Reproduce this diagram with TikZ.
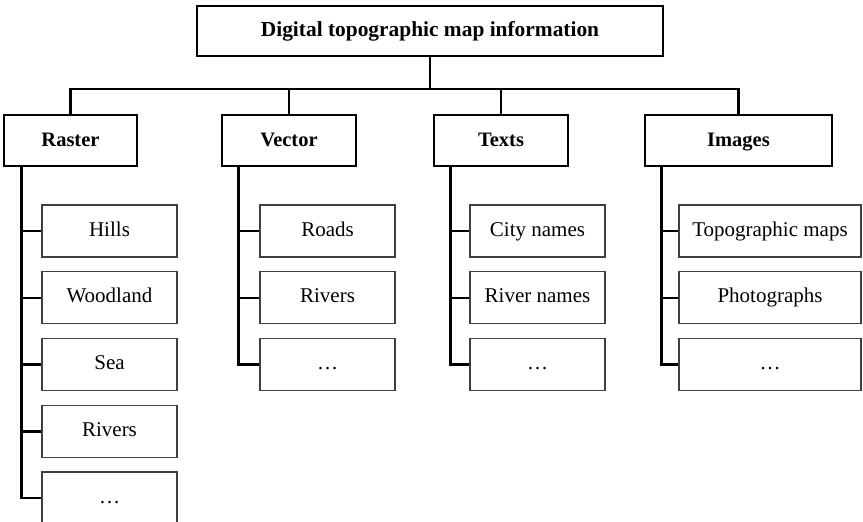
\documentclass[tikz,border=0pt]{standalone}
\usepackage{fontspec}
\setmainfont{Liberation Serif}
\usepackage{tikz}

\begin{document}
\begin{tikzpicture}[x=1pt, y=-1pt,
   mainbox/.style={draw=black, line width=2.6pt, inner sep=0pt, minimum height=51pt,
      text height=14.5pt, text depth=3.5pt, font=\fontsize{20.5}{24}\selectfont\bfseries},
   subbox/.style={draw=black!75, line width=1.3pt, inner sep=0pt, minimum width=135pt,
      minimum height=52pt, text height=14pt, text depth=4pt, font=\fontsize{21}{25}\selectfont},
   link/.style={draw=black, line width=2.5pt}]

   \useasboundingbox (0,0) rectangle (863,522);
   \clip (0,0) rectangle (863,522);

   \node[mainbox, minimum width=466pt, minimum height=50pt, font=\fontsize{21.4}{25}\selectfont\bfseries] (info) at (430,31) {Digital topographic map information};

   \node[mainbox, minimum width=133pt] (raster) at (70.5,140.5) {Raster};
   \node[mainbox, minimum width=134pt] (vector) at (289,140.5) {Vector};
   \node[mainbox, minimum width=134pt] (texts) at (501,140.5) {Texts};
   \node[mainbox, minimum width=187pt] (images) at (738.5,140.5) {Images};

   \coordinate (bus) at (430,89);
   \draw[link] (info.south) -- (bus);
   \foreach \c in {raster,vector,texts,images}
    {
      \draw[link] (bus) -| (\c.north);
    }

   \foreach \t [count=\i] in {Hills,Woodland,Sea,Rivers,\ldots}
      \node[subbox] (raster\i) at (109.5,164.25+66.75*\i) {\t};
   \foreach \t [count=\i] in {Roads,Rivers,\ldots}
      \node[subbox] (vector\i) at (327.5,164.25+66.75*\i) {\t};
   \foreach \t [count=\i] in {City names,River names,\ldots}
      \node[subbox] (texts\i) at (537.5,164.25+66.75*\i) {\t};
   \foreach \t [count=\i] in {Topographic maps,Photographs,\ldots}
      \node[subbox, minimum width=182pt] (images\i) at (770,164.25+66.75*\i) {\t};

   \foreach \i in {1,...,5}
      \draw[link] ([xshift=19pt]raster.south west) |- (raster\i.west);
   \foreach \c in {vector,texts,images}
    \foreach \i in {1,...,3}
    {
      \draw[link] ([xshift=18pt]\c.south west) |- (\c\i.west);
    }

\end{tikzpicture}
\end{document}
